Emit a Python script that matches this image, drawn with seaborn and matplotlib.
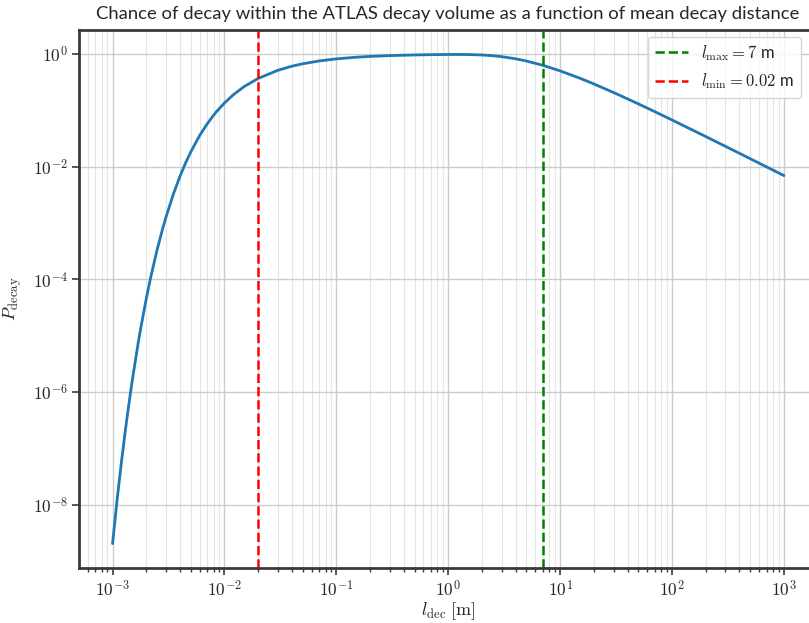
import numpy as np
import pandas as pd
import matplotlib
matplotlib.use("Agg")
import matplotlib.pyplot as plt
import matplotlib.ticker as mticker
import seaborn as sns

# mean decay distance [m] and decay probability
l_dec = [0.001, 0.0011, 0.0012, 0.0013, 0.0014, 0.0015, 0.0017, 0.0018, 0.002,
         0.0022, 0.0025, 0.0028, 0.003, 0.0035, 0.004, 0.0045, 0.005, 0.006,
         0.007, 0.008, 0.0085, 0.01, 0.012, 0.015, 0.02, 0.03, 0.04, 0.05,
         0.07, 0.1, 0.15, 0.2, 0.3, 0.5, 0.7, 1.0, 1.2, 1.5, 2.0, 2.5, 3.0,
         4.0, 5.0, 7.0, 10.0, 15.0, 20.0, 30.0, 50.0, 70.0, 100.0, 150.0,
         200.0, 300.0, 500.0, 700.0, 1000.0]
p_decay = [2.06e-9, 1.27e-8, 5.75e-8, 2.08e-7, 6.2e-7, 1.62e-6, 7.8e-6,
           1.49e-5, 4.54e-5, 1.13e-4, 3.35e-4, 7.9e-4, 1.27e-3, 3.30e-3,
           6.74e-3, 0.01174, 0.0183, 0.0357, 0.0574, 0.0821, 0.0951, 0.135,
           0.189, 0.264, 0.368, 0.513, 0.6065, 0.670, 0.751, 0.819, 0.8752,
           0.905, 0.9355, 0.961, 0.9718, 0.9793, 0.9805, 0.9774, 0.9598,
           0.9312, 0.8964, 0.8212, 0.7494, 0.6293, 0.5014, 0.3716, 0.2943,
           0.2074, 0.1302, 0.0949, 0.0674, 0.0454, 0.0343, 0.0230, 0.01386,
           0.00992, 0.00696]
x_ticks = [1e-3, 1e-2, 1e-1, 1e0, 1e1, 1e2, 1e3]
y_ticks = [1e-8, 1e-6, 1e-4, 1e-2, 1e0]
l_max = 7
l_min = 0.02

df = pd.DataFrame({"l": l_dec, "p": p_decay})

sns.set_style("ticks")
plt.rcParams["mathtext.fontset"] = "cm"
plt.rcParams["font.family"] = ["Lato", "DejaVu Sans"]

fig = plt.figure(figsize=(8.09, 6.23), dpi=100)
ax = fig.add_axes([79 / 809, 1 - 568 / 623, (817.5 - 79) / 809, (568 - 30) / 623])

sns.lineplot(data=df, x="l", y="p", ax=ax, color="#1f77b4", linewidth=2)
ax.axvline(l_max, color="green", linestyle="--", linewidth=1.8,
           label=r"$l_{\max} = 7$ m")
ax.axvline(l_min, color="red", linestyle="--", linewidth=1.8,
           label=r"$l_{\min} = 0.02$ m")
ax.set_xscale("log")
ax.set_yscale("log")

ax.grid(True, which="major", color="#cccccc", linewidth=1.0)
ax.grid(True, which="minor", axis="x", color="#e4e4e4", linewidth=0.8)
ax.set_axisbelow(True)

for s in ax.spines.values():
    s.set_color("#3a3a3a")
    s.set_linewidth(2)

ax.tick_params(axis="both", which="major", length=5, width=1.2, color="#3a3a3a",
               labelsize=12.5, pad=3)
ax.tick_params(axis="x", which="minor", length=3, width=1, color="#3a3a3a")
ax.tick_params(axis="y", which="minor", length=0)

fmt = mticker.FuncFormatter(lambda v, pos: r"$10^{%d}$" % int(round(np.log10(v))))
ax.xaxis.set_major_locator(mticker.FixedLocator(x_ticks))
ax.xaxis.set_major_formatter(fmt)
ax.xaxis.set_minor_formatter(mticker.NullFormatter())
ax.yaxis.set_major_locator(mticker.FixedLocator(y_ticks))
ax.yaxis.set_major_formatter(fmt)
ax.yaxis.set_minor_locator(mticker.NullLocator())

ax.set_xlabel(r"$l_{\rm dec}$ $\rm [m]$", fontsize=13, labelpad=1)
ax.set_ylabel(r"$P_{\rm decay}$", fontsize=13, labelpad=6)
ax.set_title("Chance of decay within the ATLAS decay volume as a function of mean decay distance",
             fontsize=13.3, x=(448 - 79) / (817.5 - 79), pad=8)

leg = ax.legend(loc="upper left", bbox_to_anchor=((643 - 79) / (817.5 - 79), 0.997),
                fontsize=12, frameon=True, borderaxespad=0.3)
leg.get_frame().set_edgecolor("#cccccc")

fig.savefig("out.png", dpi=100)
